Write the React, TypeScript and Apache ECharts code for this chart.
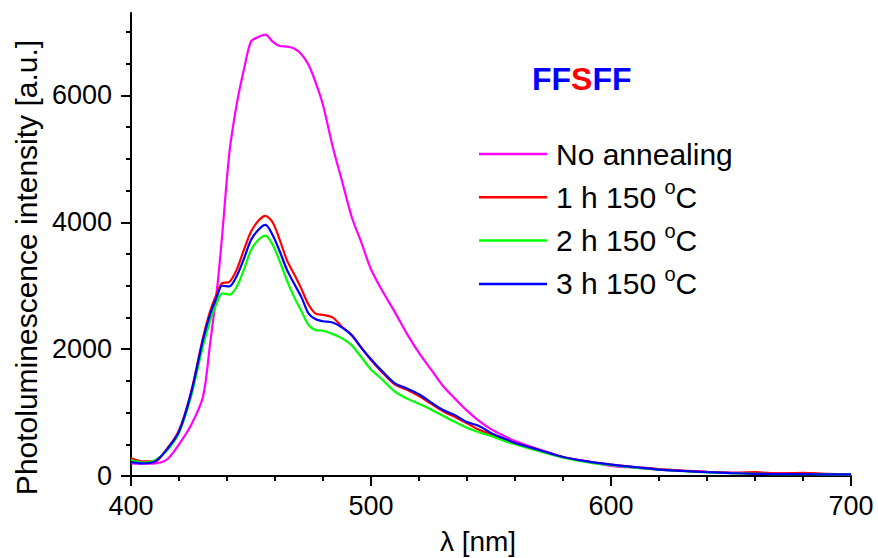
import React, { useEffect, useRef } from 'react';
import * as echarts from 'echarts';

const wavelengths = [400, 405, 410, 415, 420, 425, 430, 433, 436, 438, 441, 444, 447, 450, 453, 456, 459, 462, 465, 468, 471, 474, 477, 480, 484, 488, 492, 496, 500, 505, 510, 515, 520, 525, 530, 535, 540, 545, 550, 555, 560, 570, 580, 590, 600, 610, 620, 630, 640, 650, 660, 670, 680, 690, 700];

const noAnnealing = [200, 195, 200, 260, 500, 800, 1250, 2100, 3000, 3800, 5100, 5850, 6400, 6850, 6920, 6960, 6850, 6780, 6770, 6740, 6650, 6480, 6200, 5850, 5200, 4640, 4080, 3680, 3260, 2900, 2580, 2240, 1940, 1680, 1420, 1220, 1030, 870, 740, 640, 550, 420, 300, 230, 160, 130, 100, 80, 65, 55, 45, 40, 35, 30, 30];

const anneal1h = [280, 230, 230, 430, 720, 1320, 2180, 2600, 2900, 3040, 3060, 3250, 3560, 3850, 4020, 4100, 4000, 3720, 3400, 3180, 2950, 2700, 2560, 2540, 2500, 2350, 2220, 2020, 1830, 1620, 1440, 1360, 1260, 1140, 1020, 930, 830, 730, 660, 590, 520, 410, 300, 230, 180, 140, 110, 85, 65, 50, 60, 40, 50, 35, 30];

const anneal2h = [250, 210, 250, 400, 680, 1250, 2050, 2450, 2750, 2880, 2860, 2980, 3250, 3560, 3720, 3790, 3650, 3380, 3080, 2820, 2600, 2380, 2300, 2290, 2240, 2170, 2060, 1870, 1680, 1510, 1330, 1220, 1140, 1050, 950, 850, 760, 690, 630, 560, 500, 390, 290, 220, 170, 130, 100, 75, 55, 45, 35, 30, 30, 25, 25];

const anneal3h = [220, 200, 230, 420, 700, 1300, 2150, 2550, 2850, 3000, 2990, 3150, 3420, 3720, 3880, 3960, 3800, 3540, 3250, 3030, 2820, 2560, 2470, 2440, 2420, 2340, 2220, 2020, 1840, 1640, 1460, 1380, 1290, 1160, 1040, 960, 850, 790, 680, 600, 520, 410, 300, 230, 180, 140, 100, 80, 60, 45, 35, 30, 30, 25, 25];

const seriesNames = ['No annealing', '1 h 150 oC', '2 h 150 oC', '3 h 150 oC'];
const seriesColors = ['#ff00ff', '#ff0000', '#00ff00', '#0000ff'];

const xMajorTicks = [400, 500, 600, 700];
const xMinorTicks = [420, 440, 460, 480, 520, 540, 560, 580, 620, 640, 660, 680];
const yMajorTicks = [0, 2000, 4000, 6000];
const yMinorTicks = [500, 1000, 1500, 2500, 3000, 3500, 4500, 5000, 5500, 6500, 7000];

const FONT = 'Liberation Sans, Arial, Helvetica, sans-serif';

export default function App() {
  const ref = useRef<HTMLDivElement>(null);

  useEffect(() => {
    document.body.style.margin = '0';
    if (!ref.current) return;
    const chart = echarts.init(ref.current, undefined, { renderer: 'svg' });

    const allValues = [noAnnealing, anneal1h, anneal2h, anneal3h];
    const series = allValues.map((vals, i) => ({
      name: seriesNames[i],
      type: 'line',
      xAxisIndex: 0,
      yAxisIndex: 0,
      data: wavelengths.map((w, j) => [w, vals[j]]),
      showSymbol: false,
      symbol: 'none',
      smooth: 0.3,
      lineStyle: { color: seriesColors[i], width: 2.2 },
      itemStyle: { color: seriesColors[i] },
      z: 2 + i,
    }));

    const axisLineStyle = { color: '#000', width: 2 };
    const plain = (v: number) => String(v);

    chart.setOption({
      animation: false,
      backgroundColor: '#fff',
      title: {
        text: '{b|FF}{r|S}{b|FF}',
        left: 532,
        top: 63,
        padding: 0,
        textStyle: {
          fontFamily: FONT,
          rich: {
            b: { color: '#0000ff', fontSize: 32, fontWeight: 'bold', fontFamily: FONT },
            r: { color: '#ff0000', fontSize: 32, fontWeight: 'bold', fontFamily: FONT },
          },
        },
      },
      legend: {
        orient: 'vertical',
        left: 479,
        top: 134,
        padding: 0,
        itemGap: 3.3,
        itemWidth: 68,
        itemHeight: 2.5,
        icon: 'rect',
        data: seriesNames,
        formatter: (name: string) => name.replace(/ oC$/, ' {sup|o}C'),
        textStyle: {
          fontFamily: FONT,
          fontSize: 30,
          lineHeight: 40,
          color: '#000',
          padding: [0, 0, 0, 4],
          rich: {
            sup: { fontSize: 20, lineHeight: 20, verticalAlign: 'top', color: '#000', fontFamily: FONT },
          },
        },
      },
      grid: { left: 131, right: 27, top: 13, bottom: 82, containLabel: false, outerBoundsMode: 'none' },
      xAxis: [
        {
          type: 'value',
          min: 400,
          max: 700,
          interval: 100,
          position: 'bottom',
          name: 'λ [nm]',
          nameLocation: 'middle',
          nameGap: 51,
          nameTextStyle: { fontFamily: FONT, fontSize: 28, lineHeight: 28, color: '#000', padding: [0, 26, 0, 0] },
          axisLine: { show: true, onZero: false, lineStyle: axisLineStyle },
          axisTick: { show: true, inside: false, length: 10, lineStyle: axisLineStyle, customValues: xMajorTicks },
          axisLabel: { fontFamily: FONT, fontSize: 27, color: '#000', margin: 16, customValues: xMajorTicks, formatter: plain },
          splitLine: { show: false },
        },
        {
          type: 'value',
          min: 400,
          max: 700,
          position: 'bottom',
          offset: 0,
          axisLine: { show: false, onZero: false },
          axisTick: { show: true, inside: false, length: 5, lineStyle: axisLineStyle, customValues: xMinorTicks },
          axisLabel: { show: false },
          splitLine: { show: false },
        },
      ],
      yAxis: [
        {
          type: 'value',
          min: 0,
          max: 7300,
          interval: 500,
          position: 'left',
          name: 'Photoluminescence intensity [a.u.]',
          nameLocation: 'middle',
          nameGap: 90,
          nameTextStyle: { fontFamily: FONT, fontSize: 30, color: '#000', padding: [0, 46, 0, 0] },
          axisLine: { show: true, onZero: false, lineStyle: axisLineStyle },
          axisTick: { show: true, inside: false, length: 10, lineStyle: axisLineStyle, customValues: yMajorTicks },
          axisLabel: { fontFamily: FONT, fontSize: 27, color: '#000', margin: 19, customValues: yMajorTicks, formatter: plain },
          splitLine: { show: false },
        },
        {
          type: 'value',
          min: 0,
          max: 7300,
          interval: 500,
          position: 'left',
          offset: 0,
          axisLine: { show: false, onZero: false },
          axisTick: { show: true, inside: false, length: 5, lineStyle: axisLineStyle, customValues: yMinorTicks },
          axisLabel: { show: false },
          splitLine: { show: false },
        },
      ],
      series,
    });

    return () => {
      chart.dispose();
    };
  }, []);

  return (
    <div
      ref={ref}
      style={{ position: 'fixed', left: 0, top: 0, width: 878, height: 558, background: '#fff' }}
    />
  );
}
